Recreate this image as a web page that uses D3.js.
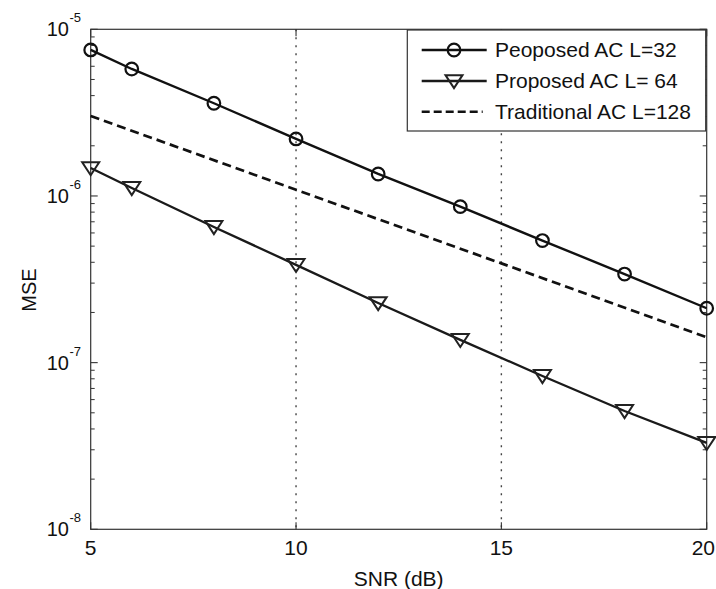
<!DOCTYPE html>
<html>
<head>
<meta charset="utf-8">
<script src="https://d3js.org/d3.v7.min.js"></script>
<style>
  html, body { margin: 0; padding: 0; background: #fff; }
  svg { display: block; }
  text { font-family: "Liberation Sans", Arial, Helvetica, sans-serif; fill: #111; }
</style>
</head>
<body>
<svg id="chart" width="716" height="589"></svg>
<script>
// ---- data ----
const snrCircle = [5, 6, 8, 10, 12, 14, 16, 18, 20];
const mseL32 = [7.52e-6, 5.78e-6, 3.60e-6, 2.20e-6, 1.355e-6, 8.63e-7, 5.40e-7, 3.40e-7, 2.12e-7];
const snrTri = [5, 6, 8, 10, 12, 14, 16, 18, 20];
const mseL64 = [1.47e-6, 1.117e-6, 6.52e-7, 3.86e-7, 2.28e-7, 1.37e-7, 8.32e-8, 5.13e-8, 3.30e-8];
const snrTrad = [5, 10, 15, 20];
const mseL128 = [3.02e-6, 1.09e-6, 3.94e-7, 1.42e-7];
const xTicks = [5, 10, 15, 20];
const yTickExps = [-5, -6, -7, -8];
const gridX = [10, 15];
const legendLabels = ["Peoposed AC L=32", "Proposed AC L= 64", "Traditional AC L=128"];
const xLabel = "SNR (dB)";
const yLabel = "MSE";

(function () {
// ---- layout ----
const svg = d3.select("#chart");
const pL = 90.7, pR = 706.7, pT = 29.3, pB = 529.3;
const x = d3.scaleLinear().domain([5, 20]).range([pL, pR]);
const y = d3.scaleLog().domain([1e-8, 1e-5]).range([pB, pT]);

// dotted grid lines
svg.append("g").selectAll("line").data(gridX).join("line")
  .attr("x1", d => x(d)).attr("x2", d => x(d))
  .attr("y1", pT).attr("y2", pB)
  .attr("stroke", "#444").attr("stroke-width", 1.4)
  .attr("stroke-dasharray", "2,6");

// frame
svg.append("rect").attr("x", pL).attr("y", pT)
  .attr("width", pR - pL).attr("height", pB - pT)
  .attr("fill", "none").attr("stroke", "#333").attr("stroke-width", 1.2);

// x ticks (bottom & top, inward)
const xt = svg.append("g");
xTicks.forEach((t, i) => {
  xt.append("line").attr("x1", x(t)).attr("x2", x(t)).attr("y1", pB).attr("y2", pB - 7)
    .attr("stroke", "#333").attr("stroke-width", 1.1);
  xt.append("line").attr("x1", x(t)).attr("x2", x(t)).attr("y1", pT).attr("y2", pT + 7)
    .attr("stroke", "#333").attr("stroke-width", 1.1);
  const last = i === xTicks.length - 1;
  xt.append("text").attr("x", last ? 715 : x(t)).attr("y", pB + 26)
    .attr("text-anchor", last ? "end" : "middle").attr("font-size", 21).text(t);
});

// y ticks (major + minor, left & right, inward)
const yt = svg.append("g");
const minorVals = [];
for (let e = -8; e < -5; e++) for (let m = 2; m <= 9; m++) minorVals.push(m * Math.pow(10, e));
minorVals.forEach(v => {
  [[pL, pL + 4], [pR, pR - 4]].forEach(([a, b]) => {
    yt.append("line").attr("x1", a).attr("x2", b).attr("y1", y(v)).attr("y2", y(v))
      .attr("stroke", "#333").attr("stroke-width", 1);
  });
});
yTickExps.forEach(e => {
  const v = Math.pow(10, e);
  [[pL, pL + 7], [pR, pR - 7]].forEach(([a, b]) => {
    yt.append("line").attr("x1", a).attr("x2", b).attr("y1", y(v)).attr("y2", y(v))
      .attr("stroke", "#333").attr("stroke-width", 1.1);
  });
  yt.append("text").attr("x", 69).attr("y", y(v) + 7)
    .attr("text-anchor", "end").attr("font-size", 20).text("10");
  yt.append("text").attr("x", 69.5).attr("y", y(v) - 7)
    .attr("text-anchor", "start").attr("font-size", 13).text(String(e));
});

// axis labels
svg.append("text").attr("x", (pL + pR) / 2).attr("y", 586)
  .attr("text-anchor", "middle").attr("font-size", 21).text(xLabel);
svg.append("text").attr("transform", "translate(36,290) rotate(-90)")
  .attr("text-anchor", "middle").attr("font-size", 20).text(yLabel);

// series
const lineGen = d3.line().x(d => x(d[0])).y(d => y(d[1]));
const s32 = snrCircle.map((s, i) => [s, mseL32[i]]);
const s64 = snrTri.map((s, i) => [s, mseL64[i]]);
const s128 = snrTrad.map((s, i) => [s, mseL128[i]]);

const plot = svg.append("g");
plot.append("path").datum(s128).attr("d", lineGen)
  .attr("fill", "none").attr("stroke", "#111").attr("stroke-width", 2.7)
  .attr("stroke-dasharray", "9,5");
plot.append("path").datum(s32).attr("d", lineGen)
  .attr("fill", "none").attr("stroke", "#111").attr("stroke-width", 2.4);
plot.append("path").datum(s64).attr("d", lineGen)
  .attr("fill", "none").attr("stroke", "#1a1a1a").attr("stroke-width", 2.3);

function triPath(cx, cy) {
  const w = 8.5, h = 13;
  return `M${cx - w},${cy - h * 0.45}L${cx + w},${cy - h * 0.45}L${cx},${cy + h * 0.55}Z`;
}
plot.selectAll("circle.m32").data(s32).join("circle")
  .attr("cx", d => x(d[0])).attr("cy", d => y(d[1])).attr("r", 6.3)
  .attr("fill", "none").attr("stroke", "#111").attr("stroke-width", 2.2);
plot.selectAll("path.m64").data(s64).join("path")
  .attr("d", d => triPath(x(d[0]), y(d[1])))
  .attr("fill", "none").attr("stroke", "#222").attr("stroke-width", 2);

// legend
const lg = svg.append("g");
const lx0 = 407.3, ly0 = 30, lw = pR - 1 - lx0, lh = 101;
lg.append("rect").attr("x", lx0).attr("y", ly0).attr("width", lw).attr("height", lh)
  .attr("fill", "#fff").attr("stroke", "#333").attr("stroke-width", 1.2);
const rowsY = [50, 81, 111.7];
const sx1 = 421.7, sx2 = 486.7, smid = 454, tx0 = 495;
// row 1
lg.append("line").attr("x1", sx1).attr("x2", sx2).attr("y1", rowsY[0]).attr("y2", rowsY[0])
  .attr("stroke", "#111").attr("stroke-width", 2.4);
lg.append("circle").attr("cx", smid).attr("cy", rowsY[0]).attr("r", 6.3)
  .attr("fill", "none").attr("stroke", "#111").attr("stroke-width", 2.2);
// row 2
lg.append("line").attr("x1", sx1).attr("x2", sx2).attr("y1", rowsY[1]).attr("y2", rowsY[1])
  .attr("stroke", "#1a1a1a").attr("stroke-width", 2.3);
lg.append("path").attr("d", triPath(smid, rowsY[1]))
  .attr("fill", "none").attr("stroke", "#222").attr("stroke-width", 2);
// row 3
lg.append("line").attr("x1", sx1).attr("x2", sx2 - 4).attr("y1", rowsY[2]).attr("y2", rowsY[2])
  .attr("stroke", "#111").attr("stroke-width", 2.5).attr("stroke-dasharray", "8,4");
legendLabels.forEach((t, i) => {
  lg.append("text").attr("x", tx0).attr("y", rowsY[i] + 7).attr("font-size", 21).text(t);
});
})();
</script>
</body>
</html>
